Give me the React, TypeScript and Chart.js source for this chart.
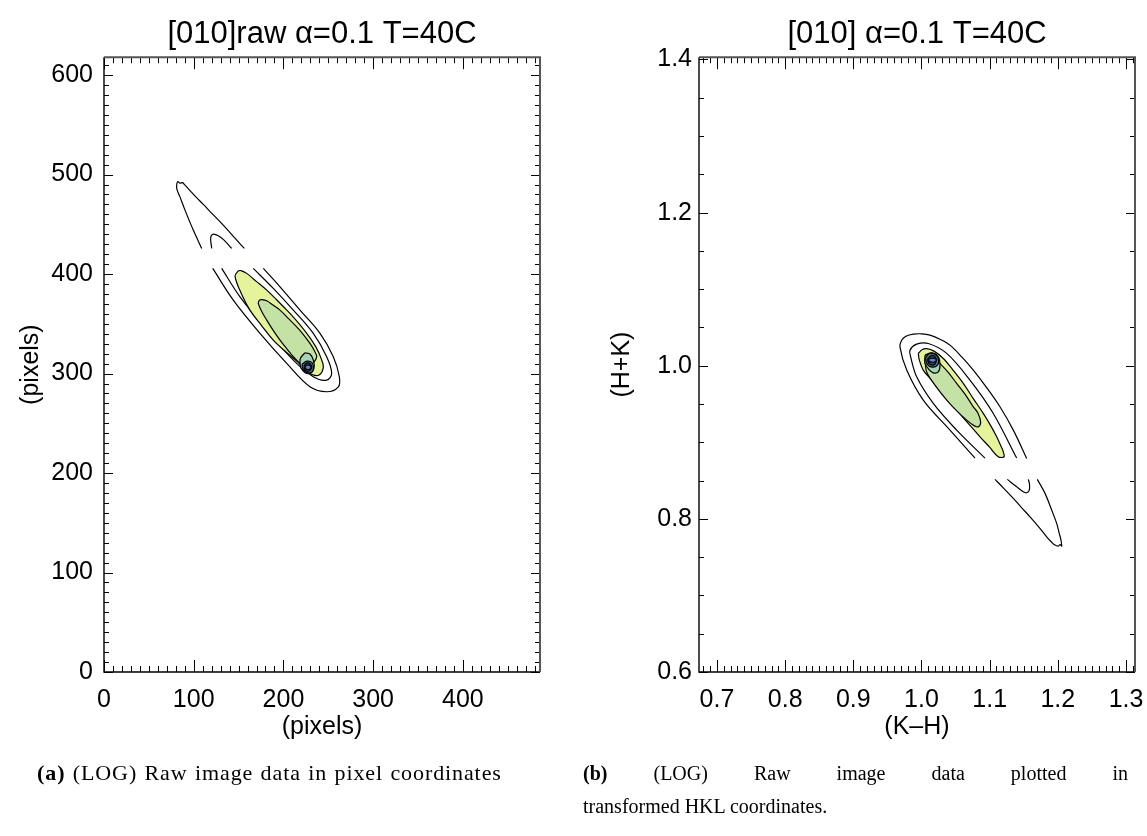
import React, { useEffect, useRef } from "react";
import { Chart, registerables } from "chart.js";

Chart.register(...registerables);

type P = [number, number];

// ---------------- Panel (a): raw image, pixel coordinates ----------------
const leftTitle = "[010]raw \u03b1=0.1 T=40C";
const leftXTitle = "(pixels)";
const leftYTitle = "(pixels)";
const leftXRange: P = [0, 486];
const leftYRange: P = [0, 618];
const leftXMajorTicks = [0, 100, 200, 300, 400];
const leftYMajorTicks = [0, 100, 200, 300, 400, 500, 600];
const leftXMinorStep = 10;
const leftYMinorStep = 10;

// open contour pieces (cut by the detector gap)
const leftOuterUpper: P[] = [
  [108.9, 425.8], [99.5, 444.2], [90.3, 464.3], [84.7, 477.6], [81.0, 486.1], [81.4, 491.4],
  [82.5, 492.9], [84.7, 491.4], [87.5, 491.9], [90.3, 489.4], [95.9, 483.9], [102.6, 477.3],
  [110.4, 470.3], [118.2, 462.8], [127.1, 454.7], [136.0, 446.2], [146.0, 436.1], [156.4, 425.8],
];
const leftInnerUpper: P[] = [
  [120.1, 425.8], [118.9, 434.1], [119.3, 438.1], [121.8, 440.2], [127.4, 438.6], [133.8, 434.1], [142.4, 425.8],
];
const leftOuterLower: P[] = [
  [121.2, 405.7], [144.1, 373.8], [173.9, 340.4], [203.7, 310.2], [229.6, 286.7], [248.2, 281.7],
  [261.2, 286.7], [262.3, 296.8], [255.6, 316.9], [240.8, 340.4], [218.5, 363.8], [196.2, 387.2], [177.6, 405.7],
];
const leftMidLower: P[] = [
  [131.2, 405.7], [151.6, 377.1], [181.4, 343.7], [211.0, 313.5], [233.3, 296.8], [248.2, 293.4],
  [253.8, 300.2], [248.2, 316.9], [233.3, 340.4], [211.0, 363.8], [188.7, 385.6], [166.4, 405.7],
];
// closed, filled levels
const leftYellow: P[] = [
  [149.7, 403.3], [146.0, 397.9], [153.8, 378.9], [162.7, 363.8], [176.1, 347.7], [188.7, 333.6],
  [202.9, 321.6], [214.8, 312.5], [224.1, 304.5], [231.9, 299.0], [239.7, 298.5], [244.5, 306.5],
  [241.9, 315.5], [236.3, 326.6], [226.0, 340.4], [214.0, 353.7], [203.7, 363.8], [191.7, 374.8],
  [181.4, 383.9], [169.4, 392.9], [159.1, 400.7], [152.7, 403.5],
];
const leftGreen: P[] = [
  [173.1, 373.8], [172.0, 370.5], [176.1, 361.8], [181.4, 353.7], [188.4, 343.7], [196.2, 333.6],
  [204.0, 324.6], [211.0, 316.9], [218.5, 310.2], [224.1, 305.5], [229.6, 305.0], [233.3, 310.2],
  [237.1, 316.9], [234.1, 323.6], [229.6, 330.3], [221.8, 339.7], [214.8, 347.0], [205.1, 355.7],
  [196.2, 363.8], [188.4, 368.8], [181.4, 373.1], [176.1, 374.3],
];
const leftTeal: P[] = [
  [224.1, 320.9], [219.0, 315.5], [218.5, 310.5], [219.6, 305.5], [224.1, 300.8], [229.6, 300.2],
  [234.1, 305.2], [233.3, 313.5], [229.6, 319.6],
];
const leftRingA: P[] = [
  [220.7, 309.5], [221.8, 304.5], [226.3, 301.0], [231.9, 301.5], [233.5, 306.0], [231.9, 311.0], [226.3, 312.5],
];
const leftRingB: P[] = [
  [222.9, 307.5], [224.1, 303.5], [228.5, 302.5], [231.3, 305.5], [230.2, 309.5], [225.7, 310.5],
];
const leftCore: P[] = [
  [224.1, 306.0], [226.3, 304.0], [229.6, 304.5], [230.7, 307.0], [228.5, 308.5], [225.2, 308.0],
];

// ---------------- Panel (b): transformed HKL coordinates ----------------
const rightTitle = "[010] \u03b1=0.1 T=40C";
const rightXTitle = "(K\u2013H)";
const rightYTitle = "(H+K)";
const rightXRange: P = [0.6736, 1.3132];
const rightYRange: P = [0.6, 1.403];
const rightXMajorTicks = [0.7, 0.8, 0.9, 1.0, 1.1, 1.2, 1.3];
const rightYMajorTicks = [0.6, 0.8, 1.0, 1.2, 1.4];
const rightXMinorStep = 0.01;
const rightYMinorStep = 0.05;

const rightOuterUpper: P[] = [
  [1.0785, 0.8794], [1.0418, 0.9159], [1.0026, 0.9551], [0.9783, 0.9943], [0.9684, 1.0247], [0.9709, 1.0334],
  [0.9772, 1.0386], [0.988, 1.0413], [1.0007, 1.0417], [1.0125, 1.04], [1.0271, 1.0347], [1.0418, 1.0269],
  [1.0594, 1.0112], [1.076, 0.9943], [1.0961, 0.9708], [1.1151, 0.9464], [1.1347, 0.9159], [1.1543, 0.879],
];
const rightMidUpper: P[] = [
  [1.0931, 0.8794], [1.0516, 0.9159], [1.0173, 0.9508], [0.9929, 0.9855], [0.9841, 1.0116], [0.9831, 1.0204],
  [0.9929, 1.0282], [1.01, 1.0291], [1.037, 1.0161], [1.0711, 0.9812], [1.1053, 0.9377], [1.1396, 0.8794],
];
const rightOuterLower: P[] = [
  [1.1078, 0.8516], [1.121, 0.8396], [1.1347, 0.8268], [1.1467, 0.8148], [1.1592, 0.8027], [1.1716, 0.79],
  [1.1836, 0.7766], [1.1914, 0.7691], [1.1958, 0.7658], [1.2007, 0.7645], [1.2032, 0.7665], [1.2056, 0.7645],
  [1.2046, 0.7723], [1.2021, 0.7811], [1.1983, 0.7941], [1.191, 0.8115], [1.1812, 0.8333], [1.1699, 0.8516],
];
const rightMidLower: P[] = [
  [1.1259, 0.8516], [1.1396, 0.8419], [1.1493, 0.8354], [1.1543, 0.8341], [1.1581, 0.8376], [1.1584, 0.8454], [1.1567, 0.8516],
];
const rightYellow: P[] = [
  [0.9953, 1.0161], [1.0007, 1.021], [1.0076, 1.0223], [1.0183, 1.0191], [1.032, 1.0095], [1.0462, 0.9943],
  [1.0613, 0.9769], [1.0755, 0.9577], [1.0906, 0.9377], [1.1019, 0.9212], [1.1103, 0.9072], [1.1166, 0.895],
  [1.12, 0.8876], [1.121, 0.8811], [1.1126, 0.8811], [1.0999, 0.8937], [1.0858, 0.9072], [1.0682, 0.9251],
  [1.0516, 0.942], [1.0359, 0.9577], [1.0223, 0.9725], [1.011, 0.9851], [1.0026, 0.9943], [0.9968, 1.0073],
];
const rightGreen: P[] = [
  [1.0051, 1.0073], [1.0076, 0.992], [1.0198, 0.9747], [1.037, 0.9551], [1.0521, 0.9407], [1.0663, 0.929],
  [1.077, 0.9218], [1.0833, 0.9202], [1.0868, 0.9264], [1.0829, 0.9381], [1.076, 0.9464], [1.0638, 0.9629],
  [1.0516, 0.9769], [1.0389, 0.9917], [1.0271, 1.003], [1.0198, 1.0112], [1.0125, 1.0132],
];
const rightTeal: P[] = [
  [1.0051, 1.0138], [1.0051, 1.003], [1.011, 0.9949], [1.0173, 0.9907], [1.0246, 0.992], [1.0271, 1.0008],
  [1.0246, 1.0116], [1.0149, 1.0168],
];
const rightRingA: P[] = [
  [1.0059, 1.0099], [1.0081, 1.0021], [1.0154, 0.9982], [1.0235, 1.0008], [1.0249, 1.0086], [1.0198, 1.0151], [1.011, 1.0158],
];
const rightRingB: P[] = [
  [1.0088, 1.0086], [1.011, 1.0028], [1.0169, 1.0008], [1.0213, 1.0047], [1.0205, 1.0112], [1.0139, 1.0132],
];
const rightCore: P[] = [
  [1.0103, 1.0067], [1.0139, 1.0047], [1.0198, 1.0053], [1.022, 1.008], [1.0169, 1.0099], [1.0117, 1.0093],
];

// ---------------- Captions ----------------
const captionALabel = "(a)";
const captionAText = " (LOG) Raw image data in pixel coordinates";
const captionBLabel = "(b)";
const captionBLine1 = " (LOG) Raw image data plotted in";
const captionBLine2 = "transformed HKL coordinates.";

// ---------------- Styles ----------------
const FONT = "'Liberation Sans', Arial, Helvetica, sans-serif";
const COL_YELLOW = "#e5f39a";
const COL_GREEN = "#c4e2a6";
const COL_TEAL = "#a6d3b3";
const COL_RING_A = "#4e7b86";
const COL_RING_B = "#2b4766";
const COL_CORE = "#5a7fd4";

const openLine = (pts: P[]) => ({
  data: pts.map(([x, y]) => ({ x, y })),
  showLine: true,
  pointRadius: 0,
  pointHoverRadius: 0,
  borderColor: "#000",
  borderWidth: 1.2,
  tension: 0.35,
  fill: false,
});
const closedLevel = (pts: P[], color: string) => ({
  ...openLine([...pts, pts[0]]),
  fill: "shape",
  backgroundColor: color,
});

function minorTicks(range: P, step: number, majors: number[]) {
  const out: number[] = [];
  const start = Math.ceil(range[0] / step - 1e-9);
  const end = Math.floor(range[1] / step + 1e-9);
  for (let i = start; i <= end; i++) {
    const v = i * step;
    if (!majors.some((m) => Math.abs(m - v) < step / 10)) out.push(v);
  }
  return out;
}

const frameTicksPlugin = {
  id: "frameTicks",
  afterDraw(chart: any, _args: any, o: any) {
    const { ctx, chartArea } = chart;
    const { left, right, top, bottom } = chartArea;
    const xs = chart.scales.x;
    const ys = chart.scales.y;
    ctx.save();
    ctx.strokeStyle = "#000";
    ctx.lineWidth = 1;
    ctx.beginPath();
    const vx = (v: number, len: number) => {
      const p = Math.round(xs.getPixelForValue(v)) + 0.5;
      ctx.moveTo(p, bottom);
      ctx.lineTo(p, bottom - len);
      ctx.moveTo(p, top);
      ctx.lineTo(p, top + len);
    };
    const vy = (v: number, len: number) => {
      const p = Math.round(ys.getPixelForValue(v)) + 0.5;
      ctx.moveTo(left, p);
      ctx.lineTo(left + len, p);
      ctx.moveTo(right, p);
      ctx.lineTo(right - len, p);
    };
    o.xMajor.forEach((v: number) => vx(v, o.xMajorLen));
    o.xMinor.forEach((v: number) => vx(v, o.xMinorLen));
    o.yMajor.forEach((v: number) => vy(v, o.yMajorLen));
    o.yMinor.forEach((v: number) => vy(v, o.yMinorLen));
    ctx.stroke();
    ctx.lineWidth = 1.4;
    ctx.strokeStyle = "#000";
    ctx.beginPath();
    ctx.moveTo(left, top);
    ctx.lineTo(left, bottom);
    ctx.lineTo(right, bottom);
    ctx.stroke();
    ctx.lineWidth = 2;
    ctx.strokeStyle = "#555";
    ctx.beginPath();
    ctx.moveTo(left, top);
    ctx.lineTo(right, top);
    ctx.lineTo(right, bottom);
    ctx.stroke();
    ctx.restore();
  },
};

interface PanelSpec {
  title: string;
  xTitle: string;
  yTitle: string;
  xRange: P;
  yRange: P;
  xMajor: number[];
  yMajor: number[];
  xMinorStep: number;
  yMinorStep: number;
  xStep: number;
  yStep: number;
  decimals: number;
  datasets: any[];
  yAxisWidth: number;
  yTitlePad: number;
  yTickPad: number;
  padRight: number;
}

function buildConfig(s: PanelSpec): any {
  return {
    type: "scatter",
    data: { datasets: s.datasets },
    plugins: [frameTicksPlugin],
    options: {
      animation: false,
      responsive: false,
      maintainAspectRatio: false,
      events: [],
      layout: { padding: { left: 0, right: s.padRight, top: 0, bottom: 0 } },
      plugins: {
        legend: { display: false },
        tooltip: { enabled: false },
        title: {
          display: true,
          text: s.title,
          color: "#000",
          fullSize: false,
          font: { family: FONT, size: 31, weight: "normal", lineHeight: 1.2 },
          padding: { top: 16, bottom: 4 },
        },
        frameTicks: {
          xMajor: s.xMajor,
          yMajor: s.yMajor,
          xMinor: minorTicks(s.xRange, s.xMinorStep, s.xMajor),
          yMinor: minorTicks(s.yRange, s.yMinorStep, s.yMajor),
          xMajorLen: 12,
          xMinorLen: 6,
          yMajorLen: 9,
          yMinorLen: 5,
        },
      },
      scales: {
        x: {
          type: "linear",
          position: "bottom",
          min: s.xRange[0],
          max: s.xRange[1],
          grid: { display: false, drawTicks: false },
          border: { display: false },
          ticks: {
            stepSize: s.xStep,
            includeBounds: false,
            autoSkip: false,
            maxRotation: 0,
            color: "#000",
            padding: 13,
            font: { family: FONT, size: 25, lineHeight: 1.2 },
            callback: (v: any) => Number(v).toFixed(s.decimals),
          },
          title: {
            display: true,
            text: s.xTitle,
            color: "#000",
            font: { family: FONT, size: 25, lineHeight: 1.2 },
            padding: { top: 0, bottom: 18 },
          },
          afterFit: (sc: any) => {
            sc.height = 88;
            sc.paddingLeft = 0;
            sc.paddingRight = 0;
          },
        },
        y: {
          type: "linear",
          position: "left",
          min: s.yRange[0],
          max: s.yRange[1],
          grid: { display: false, drawTicks: false },
          border: { display: false },
          ticks: {
            stepSize: s.yStep,
            includeBounds: false,
            autoSkip: false,
            color: "#000",
            padding: s.yTickPad,
            font: { family: FONT, size: 25, lineHeight: 1.2 },
            callback: (v: any) => Number(v).toFixed(s.decimals),
          },
          title: {
            display: true,
            text: s.yTitle,
            color: "#000",
            font: { family: FONT, size: 25, lineHeight: 1.2 },
            padding: { top: s.yTitlePad, bottom: 0 },
          },
          afterFit: (sc: any) => {
            sc.width = s.yAxisWidth;
            sc.paddingTop = 0;
            sc.paddingBottom = 0;
          },
        },
      },
    },
  };
}

const leftSpec: PanelSpec = {
  title: leftTitle,
  xTitle: leftXTitle,
  yTitle: leftYTitle,
  xRange: leftXRange,
  yRange: leftYRange,
  xMajor: leftXMajorTicks,
  yMajor: leftYMajorTicks,
  xMinorStep: leftXMinorStep,
  yMinorStep: leftYMinorStep,
  xStep: 100,
  yStep: 100,
  decimals: 0,
  yAxisWidth: 104,
  yTitlePad: 16,
  yTickPad: 11,
  padRight: 20,
  datasets: [
    closedLevel(leftCore, COL_CORE),
    closedLevel(leftRingB, COL_RING_B),
    closedLevel(leftRingA, COL_RING_A),
    closedLevel(leftTeal, COL_TEAL),
    closedLevel(leftGreen, COL_GREEN),
    closedLevel(leftYellow, COL_YELLOW),
    openLine(leftMidLower),
    openLine(leftOuterLower),
    openLine(leftInnerUpper),
    openLine(leftOuterUpper),
  ],
};

const rightSpec: PanelSpec = {
  title: rightTitle,
  xTitle: rightXTitle,
  yTitle: rightYTitle,
  xRange: rightXRange,
  yRange: rightYRange,
  xMajor: rightXMajorTicks,
  yMajor: rightYMajorTicks,
  xMinorStep: rightXMinorStep,
  yMinorStep: rightYMinorStep,
  xStep: 0.1,
  yStep: 0.2,
  decimals: 1,
  yAxisWidth: 139,
  yTitlePad: 47,
  yTickPad: 7,
  padRight: 12,
  datasets: [
    closedLevel(rightCore, COL_CORE),
    closedLevel(rightRingB, COL_RING_B),
    closedLevel(rightRingA, COL_RING_A),
    closedLevel(rightTeal, COL_TEAL),
    closedLevel(rightGreen, COL_GREEN),
    closedLevel(rightYellow, COL_YELLOW),
    openLine(rightMidUpper),
    openLine(rightOuterUpper),
    openLine(rightMidLower),
    openLine(rightOuterLower),
  ],
};

function Panel({ spec, width, height, left }: { spec: PanelSpec; width: number; height: number; left: number }) {
  const ref = useRef<HTMLCanvasElement | null>(null);
  useEffect(() => {
    if (!ref.current) return;
    const chart = new Chart(ref.current, buildConfig(spec));
    return () => chart.destroy();
  }, [spec]);
  return (
    <canvas
      ref={ref}
      width={width}
      height={height}
      style={{ position: "absolute", left, top: 0, width, height }}
    />
  );
}

const captionStyle: React.CSSProperties = {
  position: "absolute",
  fontFamily: "'Liberation Serif', 'DejaVu Serif', serif",
  fontSize: 20,
  lineHeight: "33px",
  color: "#000",
  whiteSpace: "nowrap",
};

export default function App() {
  return (
    <div style={{ position: "absolute", left: 0, top: 0, width: 1147, height: 836, background: "#fff", overflow: "hidden" }}>
      <Panel spec={leftSpec} width={560} height={760} left={0} />
      <Panel spec={rightSpec} width={587} height={760} left={560} />
      <div style={{ ...captionStyle, left: 37, top: 756, fontSize: 22, letterSpacing: "0.9px", wordSpacing: "1px" }}>
        <b>{captionALabel}</b>
        {captionAText}
      </div>
      <div style={{ ...captionStyle, left: 583, top: 757, width: 545, textAlign: "justify", textAlignLast: "justify", whiteSpace: "normal" }}>
        <b>{captionBLabel}</b>
        {captionBLine1}
      </div>
      <div style={{ ...captionStyle, left: 583, top: 790 }}>{captionBLine2}</div>
    </div>
  );
}
